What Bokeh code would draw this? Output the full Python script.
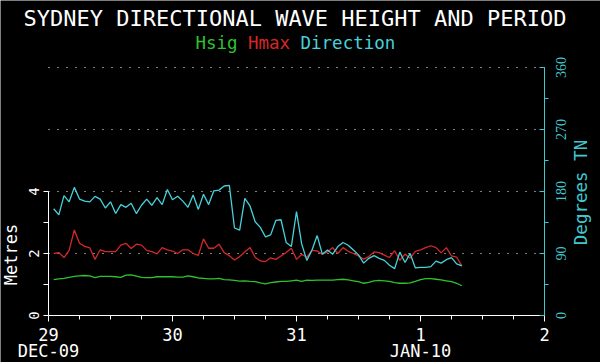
import math
from bokeh.plotting import figure
from bokeh.models import (Range1d, LinearAxis, FixedTicker, Label, LabelSet, Grid,
                          ColumnDataSource)
from bokeh.embed import file_html
from bokeh.resources import INLINE

# ---- data (hours after 29-Dec-09 00:00) ----
hours = list(range(1, 81))

hsig = [1.16, 1.18, 1.20, 1.23, 1.26, 1.28, 1.29, 1.28, 1.22, 1.26,
        1.26, 1.26, 1.25, 1.23, 1.30, 1.31, 1.27, 1.23, 1.22, 1.22,
        1.25, 1.25, 1.25, 1.25, 1.24, 1.24, 1.28, 1.25, 1.21, 1.20,
        1.18, 1.18, 1.20, 1.16, 1.15, 1.13, 1.11, 1.12, 1.10, 1.09,
        1.05, 1.02, 1.06, 1.08, 1.10, 1.10, 1.12, 1.14, 1.10, 1.14,
        1.13, 1.14, 1.14, 1.14, 1.14, 1.16, 1.17, 1.15, 1.12, 1.09,
        1.04, 1.07, 1.12, 1.13, 1.12, 1.10, 1.06, 1.04, 1.04, 1.05,
        1.10, 1.16, 1.19, 1.19, 1.17, 1.15, 1.12, 1.09, 1.04, 0.96]

hmax = [2.00, 2.03, 1.87, 2.10, 2.76, 2.33, 2.23, 2.18, 1.81, 2.12,
        2.06, 2.06, 2.06, 2.27, 2.33, 2.16, 2.30, 2.27, 2.10, 2.06,
        1.99, 2.19, 2.12, 2.08, 2.00, 2.12, 2.12, 2.00, 1.94, 2.47,
        2.17, 2.17, 2.30, 2.03, 1.93, 1.79, 1.90, 2.05, 2.19, 1.88,
        1.76, 1.74, 1.86, 1.81, 1.92, 2.03, 2.17, 1.81, 1.97, 1.88,
        2.10, 2.08, 1.98, 2.05, 2.19, 2.00, 2.19, 2.07, 2.00, 1.92,
        1.82, 1.90, 2.05, 2.03, 1.95, 1.87, 2.09, 1.78, 1.98, 1.85,
        2.07, 2.12, 2.19, 2.25, 2.19, 2.02, 2.19, 1.92, 1.88, 1.60]

direction = [155, 146, 174, 165, 186, 169, 166, 165, 173, 169,
             156, 165, 148, 161, 157, 163, 148, 160, 169, 160,
             171, 161, 183, 168, 173, 166, 157, 175, 154, 176,
             161, 181, 182, 188, 189, 127, 124, 170, 159, 136,
             128, 114, 117, 138, 139, 106, 100, 151, 104, 80,
             95, 116, 89, 95, 89, 100, 106, 102, 95, 88,
             76, 83, 87, 83, 80, 73, 68, 92, 77, 90,
             69, 70, 70, 71, 79, 76, 81, 84, 75, 72]

day_ticks = [0, 24, 48, 72, 96]
day_labels = ["29", "30", "31", "1", "2"]
six_hour_ticks = [6, 12, 18, 30, 36, 42, 54, 60, 66, 78, 84, 90]
month_labels = ["DEC-09", "JAN-10"]
month_ticks = [0, 72]
metre_ticks = [0, 2, 4]
metre_minor = [1, 3]
deg_ticks = [0, 90, 180, 270, 360]
deg_labels = ["0", "90", "180", "270", "360"]
deg_minor = [45, 135, 225, 315]
grid_levels = [2, 4, 6, 8]          # metres  (= 90, 180, 270, 360 degrees)

TITLE = "SYDNEY DIRECTIONAL WAVE HEIGHT AND PERIOD"
GREEN = "#2fc22f"
RED = "#d42828"
CYAN = "#46d2dc"
AXCYAN = "#40c8d0"
FONT = "DejaVu Sans Mono"

# ---- geometry (page pixels) ----
W, H = 600, 362
X0_PX, X96_PX = 48, 544      # x of hour 0 and hour 96
Y0_PX, Y8_PX = 315, 67       # y of 0 m and 8 m (= 360 deg)
PX_PER_H = (X96_PX - X0_PX) / 96.0
PX_PER_M = (Y0_PX - Y8_PX) / 8.0
DEG_PER_M = 45.0


def hx(page_x):
    return (page_x - X0_PX) / PX_PER_H


def my(page_y):
    return (Y0_PX - page_y) / PX_PER_M


p = figure(width=W, height=H, output_backend="svg", toolbar_location=None,
           title=None,
           x_range=Range1d(hx(0), hx(W)), y_range=Range1d(my(H), my(0)),
           x_axis_location=None, y_axis_location=None,
           min_border=0, min_border_left=0, min_border_right=0,
           min_border_top=0, min_border_bottom=0,
           background_fill_color="black", border_fill_color="black",
           outline_line_color=None)
p.center = [r for r in p.center if not isinstance(r, Grid)]
p.extra_y_ranges = {"deg": Range1d(my(H) * DEG_PER_M, my(0) * DEG_PER_M)}

common = dict(major_label_text_font=FONT)

xax = LinearAxis(fixed_location=0, bounds=(day_ticks[0], day_ticks[-1]),
                 ticker=FixedTicker(ticks=day_ticks, minor_ticks=six_hour_ticks),
                 major_label_overrides={t: l for t, l in zip(day_ticks, day_labels)},
                 axis_line_color="white", major_tick_line_color="white",
                 minor_tick_line_color="white", major_tick_in=0, major_tick_out=6,
                 minor_tick_in=0, minor_tick_out=4, major_label_text_color="white",
                 major_label_text_font_size="17px", major_label_standoff=6, **common)
p.add_layout(xax, "below")

yax = LinearAxis(fixed_location=0, bounds=(0, 4),
                 ticker=FixedTicker(ticks=metre_ticks, minor_ticks=metre_minor),
                 axis_line_color="white", major_tick_line_color="white",
                 minor_tick_line_color="white", major_tick_in=0, major_tick_out=5,
                 minor_tick_in=0, minor_tick_out=5, major_label_text_color="white",
                 major_label_text_font_size="14px", major_label_standoff=5,
                 major_label_orientation="vertical", **common)
p.add_layout(yax, "left")

# right (degrees) axis: inward ticks at labelled values, outward ticks between
r_in = LinearAxis(y_range_name="deg", fixed_location=96, bounds=(0, 360),
                  ticker=FixedTicker(ticks=[], minor_ticks=deg_ticks),
                  axis_line_color=AXCYAN, minor_tick_line_color=AXCYAN,
                  major_tick_line_color=None, minor_tick_in=5, minor_tick_out=0)
p.add_layout(r_in, "right")
r_out = LinearAxis(y_range_name="deg", fixed_location=96, bounds=(0, 360),
                   ticker=FixedTicker(ticks=[], minor_ticks=deg_minor),
                   axis_line_color=AXCYAN, minor_tick_line_color=AXCYAN,
                   major_tick_line_color=None, minor_tick_in=0, minor_tick_out=4)
p.add_layout(r_out, "right")

deg_src = ColumnDataSource(dict(x=[hx(560)] * len(deg_ticks), y=deg_ticks, t=deg_labels))
p.add_layout(LabelSet(x="x", y="y", text="t", source=deg_src, y_range_name="deg",
                      angle=math.pi / 2, text_align="center", text_baseline="middle",
                      text_color=AXCYAN, text_font=FONT, text_font_size="14px"))

# dotted reference lines across the plotting area
p.segment(x0=[day_ticks[0]] * len(grid_levels), x1=[day_ticks[-1]] * len(grid_levels),
          y0=grid_levels, y1=grid_levels, line_color="white", line_dash="1 8",
          line_width=1)

p.line(hours, hsig, line_color=GREEN, line_width=1.3)
p.line(hours, hmax, line_color=RED, line_width=1.3)
p.line(hours, direction, line_color=CYAN, line_width=1.3, y_range_name="deg")

p.add_layout(Label(x=hx(294.5), y=my(18), text=TITLE, text_align="center",
                   text_baseline="middle", text_color="white",
                   text_font=FONT, text_font_size="22px"))
for txt, col, px in [("Hsig", GREEN, 195), ("Hmax", RED, 247.5), ("Direction", CYAN, 300)]:
    p.add_layout(Label(x=hx(px), y=my(42), text=txt, text_align="left",
                       text_baseline="middle", text_color=col,
                       text_font=FONT, text_font_size="17.5px"))
for txt, t in zip(month_labels, month_ticks):
    p.add_layout(Label(x=t, y=my(350.5), text=txt, text_align="center",
                       text_baseline="middle", text_color="white",
                       text_font=FONT, text_font_size="17px"))
p.add_layout(Label(x=hx(10), y=my(254), text="Metres", angle=math.pi / 2,
                   text_align="center", text_baseline="middle", text_color="white",
                   text_font=FONT, text_font_size="17px"))
p.add_layout(Label(x=hx(580), y=my(192), text="Degrees TN", angle=math.pi / 2,
                   text_align="center", text_baseline="middle", text_color=AXCYAN,
                   text_font=FONT, text_font_size="17.5px"))

html = file_html(p, INLINE)
html = html.replace("<body>", '<body style="background-color:#000000;">', 1)
open("out.html", "w").write(html)
